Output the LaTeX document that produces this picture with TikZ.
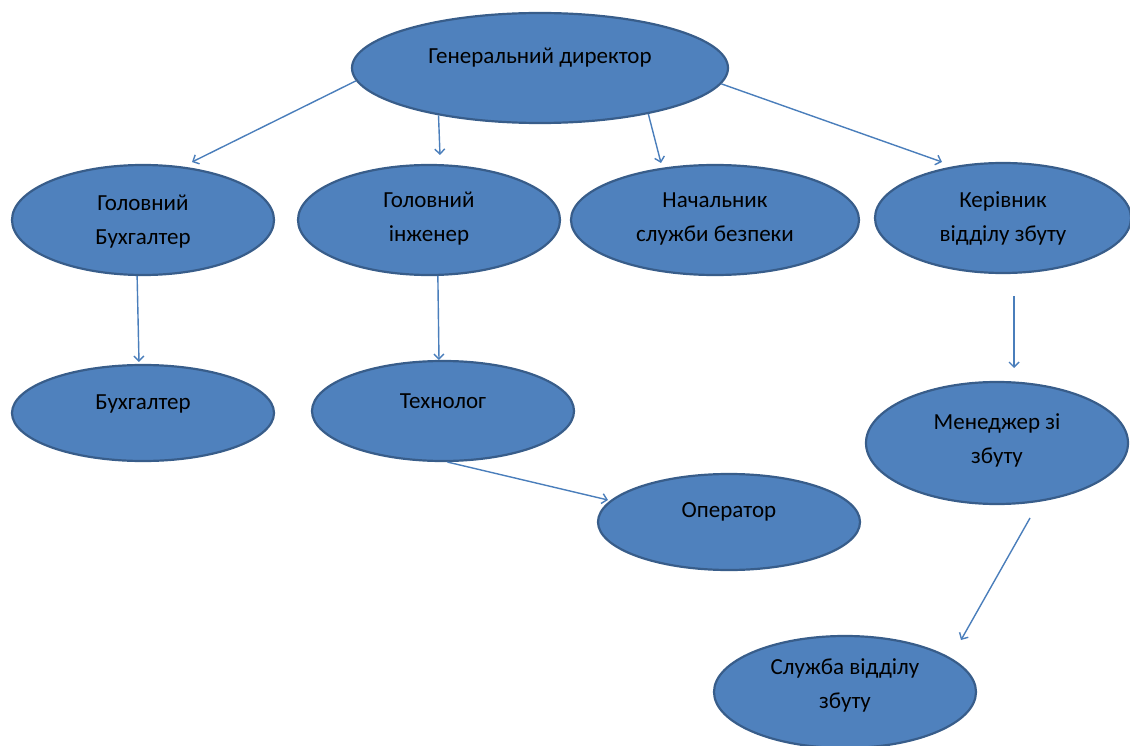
\documentclass[tikz,border=0pt]{standalone}
\usepackage{fontspec}
\setmainfont{Carlito}
\usetikzlibrary{shapes.geometric,arrows.meta}
\definecolor{boxfill}{HTML}{4F81BD}
\definecolor{boxline}{HTML}{385D8A}
\definecolor{arrcol}{HTML}{4A7EBB}
\tikzset{
  ell/.style={ellipse, draw=boxline, fill=boxfill, line width=2.2pt, inner sep=0pt},
  txt/.style={font=\fontsize{23}{34}\selectfont, align=center, text=black, inner sep=0pt},
  arr/.style={draw=arrcol, line width=1.4pt, -{Straight Barb[length=5pt,width=10pt,line width=1.4pt]}}
}
\begin{document}
\begin{tikzpicture}[x=1pt,y=-1pt]
\useasboundingbox (0,0) rectangle (1130,746);
% nodes
\node[ell, minimum width=376pt, minimum height=110pt,
  label={[txt,yshift=10pt]center:Генеральний директор}] (gd) at (540,68) {};
\node[ell, minimum width=262pt, minimum height=110pt,
  label={[txt,yshift=-2pt]center:Головний\\Бухгалтер}] (gb) at (143,220) {};
\node[ell, minimum width=262pt, minimum height=110pt,
  label={[txt,yshift=1.5pt]center:Головний\\інженер}] (gi) at (429,220) {};
\node[ell, minimum width=288pt, minimum height=110pt,
  label={[txt,yshift=1pt]center:Начальник\\служби безпеки}] (ns) at (715,220) {};
\node[ell, minimum width=256pt, minimum height=110pt,
  label={[txt,yshift=-0.5pt]center:Керівник\\відділу збуту}] (kv) at (1003,218) {};
\node[ell, minimum width=262pt, minimum height=96pt,
  label={[txt,yshift=9pt]center:Бухгалтер}] (b) at (143,413) {};
\node[ell, minimum width=262pt, minimum height=100pt,
  label={[txt,yshift=10pt]center:Технолог}] (t) at (443,411) {};
\node[ell, minimum width=262pt, minimum height=96pt,
  label={[txt,yshift=10pt]center:Оператор}] (o) at (729,522) {};
\node[ell, minimum width=262pt, minimum height=122pt,
  label={[txt,yshift=3pt]center:Менеджер зі\\збуту}] (m) at (997,443) {};
\node[ell, minimum width=262pt, minimum height=112pt,
  label={[txt,yshift=7pt]center:Служба відділу\\збуту}] (s) at (845,692) {};
% arrow tips / free ends
\coordinate (tgb) at (192,162);
\coordinate (tgi) at (440,155);
\coordinate (tns) at (661,163);
\coordinate (tkv) at (942,162);
\coordinate (tb) at (139,362);
\coordinate (tt) at (439,360);
\coordinate (skv) at (1014,296);
\coordinate (tm) at (1014,368);
\coordinate (to) at (608,500);
\coordinate (sm) at (1030,518);
\coordinate (ts) at (961,640);
% connectors
\draw[arr] (gd.184) -- (tgb);
\draw[arr] (gd.205) -- (tgi);
\draw[arr] (gd.337.4) -- (tns);
\draw[arr] (gd.355.7) -- (tkv);
\draw[arr] (gb.264) -- (tb);
\draw[arr] (gi.279.3) -- (tt);
\draw[arr] (skv) -- (tm);
\draw[arr] (t.275.4) -- (to);
\draw[arr] (sm) -- (ts);
\end{tikzpicture}
\end{document}
